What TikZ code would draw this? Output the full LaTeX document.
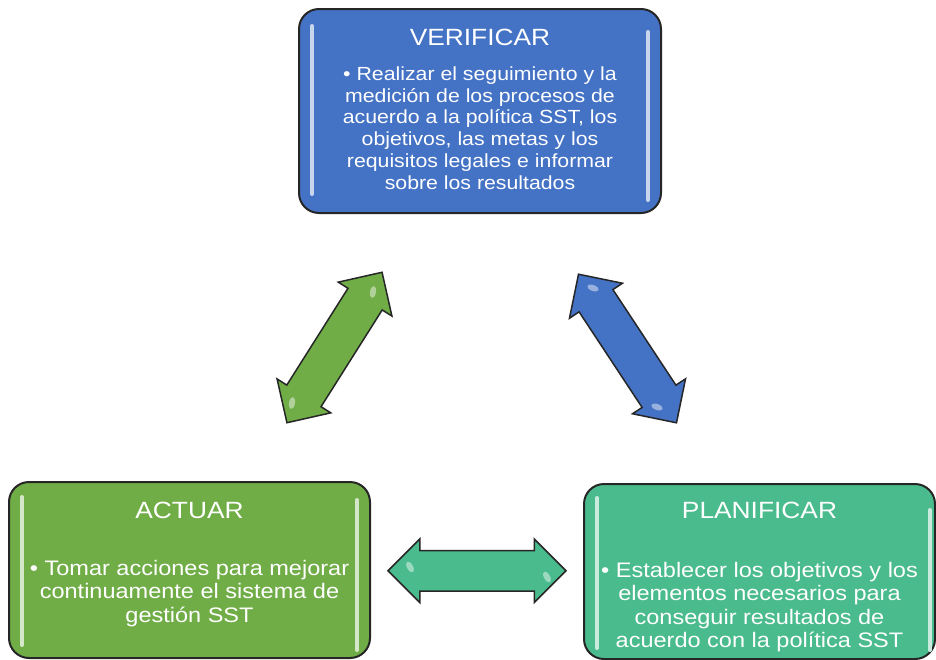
\documentclass[tikz,border=0pt]{standalone}
\usepackage{fontspec}
\setmainfont{Liberation Sans}[FakeStretch=1.12]
\usetikzlibrary{shapes.arrows, calc}

\definecolor{verblue}{RGB}{68,114,196}
\definecolor{actgreen}{RGB}{112,173,71}
\definecolor{planteal}{RGB}{74,187,140}
\definecolor{rim}{RGB}{38,38,38}

\begin{document}
\begin{tikzpicture}[x = 1pt, y = -1pt,
        cardbox/.style = {draw = rim, line width = 2pt, rounded corners = 20pt, inner sep = 0pt, outer sep = 0pt},
        cardtitle/.style = {text = white, font = \fontsize{23.5}{28}\selectfont, anchor = base, inner sep = 0pt},
        cardtext/.style = {text = white, align = center, anchor = north, inner sep = 0pt},
        gloss/.style = {line width = 4pt, line cap = round},
        shine/.style = {fill = white, opacity = 0.45},
        dblarrow/.style = {shape = double arrow, draw = rim, line width = 1.5pt, minimum height = 178pt,
            inner xsep = 0pt, inner ysep = 19.5pt, double arrow head extend = 11.5pt, outer sep = 0pt}]
        \useasboundingbox (0,0) rectangle (936,659);
        
        % the three cards
        \node [cardbox, fill = verblue, minimum width = 362pt, minimum height = 204pt] (ver) at (480,111) {};
        \node [cardbox, fill = actgreen, minimum width = 361pt, minimum height = 176pt] (act) at (189.5,570) {};
        \node [cardbox, fill = planteal, minimum width = 351pt, minimum height = 175pt] (plan) at (759.5,571.5) {};
        
        \draw [gloss, verblue!30!white] (312,26) -- (312,194);
        \draw [gloss, verblue!30!white] (648,32) -- (648,200);
        \draw [gloss, actgreen!30!white] (22,497) -- (22,645);
        \draw [gloss, actgreen!30!white] (357,500) -- (357,650);
        \draw [gloss, planteal!30!white] (597,498) -- (597,648);
        \draw [gloss, planteal!30!white] (930,510) -- (930,650);
        
        \node [cardtitle] (vertitle) at (480,45) {VERIFICAR};
        \node [cardtitle] (acttitle) at (189.5,518) {ACTUAR};
        \node [cardtitle] (plantitle) at (759.5,518) {PLANIFICAR};
        
        \node [cardtext, font = \fontsize{19}{21.8}\selectfont] (vertext) at (480,66.4)
            {• Realizar el seguimiento y la\\medición de los procesos de\\acuerdo a la política SST, los\\objetivos, las metas y los\\requisitos legales e informar\\sobre los resultados};
        \node [cardtext, font = \fontsize{21}{23.5}\selectfont] (acttext) at (189.5,560)
            {• Tomar acciones para mejorar\\continuamente el sistema de\\gestión SST};
        \node [cardtext, font = \fontsize{21}{23.5}\selectfont] (plantext) at (759.5,562)
            {• Establecer los objetivos y los\\elementos necesarios para\\conseguir resultados de\\acuerdo con la política SST};
        
        % the arrows between the cards
        \node [dblarrow, fill = actgreen, rotate = 57.7] (actver) at ($(act.north east)!0.5!(ver.south west)$) {};
        \node [dblarrow, fill = verblue, rotate = -56.6] (verplan) at ($(ver.south east)!0.5!(plan.north west)+(5,0)$) {};
        \node [dblarrow, fill = planteal] (planact) at ($(act.east)!0.5!(plan.west)$) {};
        
        \fill [shine, rotate around = {-60:(410,567)}] (410,567) ellipse (6pt and 3pt);
        \fill [shine, rotate around = {-60:(547,577)}] (547,577) ellipse (6pt and 3pt);
        \fill [shine, rotate around = {80:(373,292)}] (373,292) ellipse (6pt and 3pt);
        \fill [shine, rotate around = {80:(292,403)}] (292,403) ellipse (6pt and 3pt);
        \fill [shine, rotate around = {-20:(593,288)}] (593,288) ellipse (6pt and 3pt);
        \fill [shine, rotate around = {-20:(657,407)}] (657,407) ellipse (6pt and 3pt);
    \end{tikzpicture}
\end{document}
